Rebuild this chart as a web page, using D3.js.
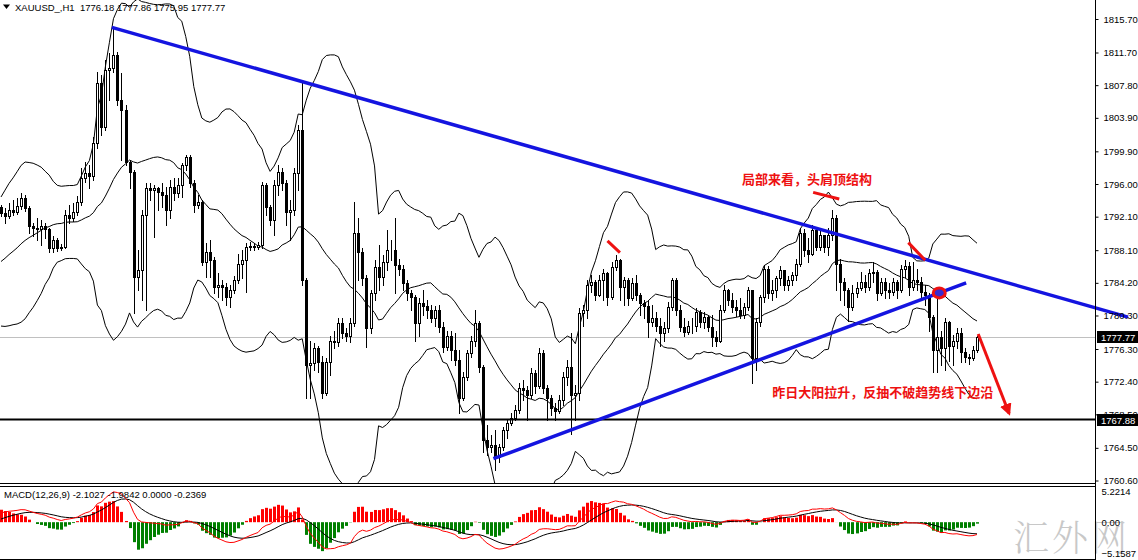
<!DOCTYPE html>
<html>
<head>
<meta charset="utf-8">
<script src="https://cdn.jsdelivr.net/npm/d3@7"></script>
<style>
  html, body { margin: 0; padding: 0; background: #fff; }
  svg { display: block; }
  text { font-family: "Liberation Sans", Arial, sans-serif; }
</style>
</head>
<body>
<svg id="chart" width="1138" height="560"></svg>
<script>
'use strict'

// closes before the first visible bar, only used to warm up the bands and MACD
const priorCloses = [
  1792.0, 1792.6, 1791.8, 1791.2, 1791.9, 1790.8, 1790.2, 1790.6, 1789.5, 1789.0,
  1789.6, 1788.4, 1787.9, 1788.3, 1787.2, 1786.8, 1787.4, 1786.2, 1785.6, 1786.0,
  1785.1, 1784.5, 1785.0, 1784.2, 1783.6, 1784.1, 1783.4, 1782.9, 1783.5, 1783.8,
  1784.5, 1784.0, 1784.8, 1785.2, 1784.6, 1785.0, 1784.4, 1785.1, 1784.8, 1785.0,
  1784.6, 1785.2, 1784.9, 1786.0, 1787.8, 1789.5, 1791.2, 1792.6, 1793.2
]

// XAUUSD H1 bars (open = previous close)
const closes = [
  1792.5, 1792.2, 1792.9, 1792.6, 1793.4, 1794.3, 1793.1, 1791.0, 1790.7, 1790.6,
  1791.0, 1790.6, 1788.3, 1789.3, 1788.3, 1788.5, 1792.3, 1791.9, 1792.6, 1793.8,
  1796.7, 1797.3, 1796.9, 1800.9, 1808.1, 1802.8, 1809.6, 1809.9, 1811.4, 1806.0,
  1804.8, 1798.6, 1797.4, 1784.9, 1785.7, 1792.3, 1795.5, 1795.3, 1795.5, 1795.0,
  1794.7, 1792.9, 1795.6, 1794.9, 1795.9, 1798.3, 1799.2, 1796.1, 1793.5, 1793.8,
  1786.7, 1787.9, 1786.9, 1783.7, 1784.0, 1783.7, 1782.5, 1783.3, 1784.5, 1786.5,
  1786.9, 1788.5, 1788.6, 1788.5, 1788.7, 1795.9, 1793.2, 1791.7, 1795.9, 1797.4,
  1796.1, 1792.6, 1792.9, 1797.3, 1802.4, 1784.5, 1774.4, 1774.6, 1776.4, 1774.7,
  1771.1, 1774.7, 1777.3, 1777.1, 1779.4, 1778.2, 1777.9, 1779.4, 1790.1, 1787.9,
  1784.8, 1778.8, 1783.0, 1786.1, 1784.9, 1786.7, 1788.1, 1788.1, 1786.3, 1785.9,
  1784.2, 1783.0, 1782.5, 1779.4, 1781.8, 1781.4, 1780.9, 1780.0, 1780.9, 1778.9,
  1776.5, 1777.9, 1776.2, 1775.0, 1770.5, 1772.9, 1775.8, 1777.3, 1779.4, 1774.1,
  1765.4, 1764.6, 1764.8, 1763.4, 1764.6, 1766.6, 1767.5, 1768.1, 1769.0, 1771.6,
  1771.4, 1770.8, 1773.4, 1771.9, 1775.8, 1771.7, 1770.5, 1769.3, 1768.9, 1770.2,
  1772.9, 1774.1, 1770.8, 1771.0, 1780.6, 1780.9, 1783.9, 1784.3, 1782.7, 1784.5,
  1785.4, 1782.5, 1786.1, 1786.9, 1783.7, 1784.5, 1782.4, 1784.2, 1782.7, 1781.8,
  1781.4, 1779.5, 1780.0, 1779.1, 1778.2, 1778.8, 1781.3, 1784.5, 1780.9, 1778.9,
  1778.3, 1779.1, 1779.0, 1780.7, 1779.5, 1780.1, 1778.9, 1777.7, 1777.3, 1780.9,
  1783.3, 1782.1, 1781.3, 1780.9, 1780.3, 1781.3, 1783.3, 1775.2, 1779.5, 1782.5,
  1785.9, 1783.0, 1783.3, 1784.8, 1785.7, 1783.9, 1784.5, 1785.1, 1786.5, 1790.1,
  1788.1, 1787.7, 1790.5, 1788.5, 1789.9, 1788.5, 1789.9, 1791.9, 1786.5, 1784.3,
  1783.3, 1781.3, 1783.0, 1783.6, 1784.3, 1783.7, 1785.4, 1785.5, 1783.0, 1784.3,
  1783.3, 1783.1, 1784.3, 1783.3, 1785.9, 1786.2, 1783.7, 1784.5, 1784.3, 1783.1,
  1782.7, 1780.1, 1776.2, 1777.7, 1776.4, 1779.5, 1776.7, 1777.3, 1778.2, 1775.9,
  1775.3, 1775.2, 1776.18, 1777.77
]

const highs = [
  1793.5, 1793.1, 1793.7, 1794.1, 1794.3, 1794.9, 1794.7, 1793.4, 1791.4, 1791.9,
  1791.7, 1791.3, 1790.8, 1789.8, 1789.5, 1788.8, 1792.9, 1793.5, 1793.7, 1794.6,
  1797.9, 1798.6, 1798.3, 1801.6, 1809.4, 1809.0, 1810.8, 1811.6, 1814.7, 1811.8,
  1809.2, 1805.4, 1798.9, 1797.7, 1788.1, 1792.9, 1796.1, 1796.1, 1795.9, 1795.6,
  1796.1, 1795.6, 1796.5, 1796.7, 1796.7, 1798.5, 1799.5, 1799.5, 1796.5, 1794.7,
  1794.1, 1788.9, 1789.3, 1787.3, 1785.4, 1784.5, 1784.2, 1783.9, 1785.0, 1787.7,
  1788.1, 1788.9, 1789.1, 1788.9, 1789.1, 1796.2, 1796.1, 1793.5, 1796.5, 1798.3,
  1797.9, 1796.5, 1794.1, 1797.9, 1803.0, 1808.4, 1784.8, 1777.3, 1777.0, 1776.7,
  1775.5, 1775.2, 1777.9, 1778.5, 1780.0, 1780.0, 1778.8, 1780.0, 1793.8, 1791.9,
  1788.3, 1785.1, 1783.3, 1786.9, 1788.7, 1787.5, 1790.5, 1789.3, 1791.9, 1787.1,
  1786.3, 1784.5, 1783.3, 1782.7, 1782.4, 1783.3, 1782.1, 1781.5, 1781.4, 1781.5,
  1779.5, 1778.5, 1778.5, 1778.2, 1776.2, 1773.5, 1776.2, 1777.8, 1780.9, 1779.7,
  1774.4, 1767.2, 1766.0, 1766.6, 1765.0, 1767.0, 1768.0, 1768.7, 1769.6, 1772.2,
  1772.6, 1771.9, 1774.0, 1773.8, 1776.4, 1776.2, 1772.0, 1770.8, 1769.8, 1770.8,
  1773.5, 1775.0, 1778.2, 1772.0, 1781.2, 1781.5, 1784.5, 1785.1, 1784.5, 1785.1,
  1785.9, 1785.5, 1786.7, 1787.5, 1787.1, 1784.9, 1784.8, 1784.8, 1785.1, 1783.0,
  1782.1, 1782.1, 1781.5, 1780.7, 1780.0, 1779.5, 1781.9, 1784.8, 1784.8, 1781.5,
  1780.0, 1779.7, 1780.0, 1781.2, 1780.9, 1780.7, 1780.3, 1780.3, 1778.5, 1781.5,
  1783.9, 1783.5, 1783.0, 1782.1, 1782.4, 1781.8, 1783.7, 1783.3, 1780.0, 1782.7,
  1786.3, 1786.2, 1784.5, 1785.0, 1786.2, 1785.7, 1785.0, 1785.5, 1787.1, 1790.7,
  1790.6, 1789.5, 1791.1, 1790.7, 1790.5, 1789.9, 1790.7, 1792.9, 1792.3, 1787.1,
  1784.8, 1783.6, 1783.9, 1784.3, 1785.5, 1785.1, 1785.9, 1786.7, 1785.7, 1784.8,
  1784.8, 1784.2, 1784.8, 1784.5, 1786.3, 1786.9, 1786.7, 1786.7, 1785.9, 1784.9,
  1783.9, 1783.0, 1780.3, 1783.0, 1778.5, 1780.0, 1779.7, 1778.0, 1778.8, 1778.8,
  1776.4, 1775.7, 1776.7, 1777.86
]

const lows = [
  1792.2, 1791.4, 1792.0, 1792.3, 1792.4, 1793.0, 1792.8, 1790.2, 1789.8, 1789.3,
  1788.7, 1789.5, 1787.9, 1787.9, 1788.0, 1788.1, 1788.3, 1791.3, 1791.6, 1792.3,
  1793.5, 1796.2, 1795.5, 1796.5, 1800.3, 1801.8, 1802.4, 1806.0, 1809.4, 1805.4,
  1798.9, 1798.3, 1795.5, 1780.6, 1783.3, 1782.1, 1780.9, 1794.1, 1789.7, 1792.9,
  1793.2, 1791.1, 1792.0, 1794.1, 1794.4, 1794.4, 1797.7, 1795.6, 1792.6, 1793.1,
  1786.3, 1784.9, 1784.9, 1783.0, 1782.5, 1782.1, 1781.5, 1781.3, 1783.0, 1784.2,
  1784.8, 1783.1, 1788.1, 1788.1, 1788.2, 1788.3, 1792.3, 1791.1, 1789.9, 1794.7,
  1795.3, 1791.1, 1789.3, 1792.3, 1795.3, 1783.9, 1770.5, 1770.4, 1773.8, 1773.5,
  1770.4, 1770.8, 1773.2, 1776.4, 1776.7, 1777.6, 1777.3, 1777.1, 1779.1, 1784.5,
  1783.9, 1776.5, 1778.2, 1782.1, 1783.3, 1783.9, 1785.7, 1786.9, 1783.0, 1785.1,
  1783.3, 1782.1, 1780.9, 1777.3, 1777.9, 1780.3, 1780.0, 1779.5, 1779.1, 1778.3,
  1775.9, 1776.2, 1775.0, 1774.4, 1768.6, 1770.2, 1772.6, 1775.3, 1776.7, 1773.5,
  1764.0, 1763.6, 1764.0, 1761.8, 1762.8, 1764.2, 1765.7, 1767.2, 1767.8, 1768.6,
  1770.2, 1767.8, 1770.4, 1771.0, 1771.6, 1771.1, 1767.8, 1768.4, 1767.8, 1768.6,
  1769.6, 1772.0, 1766.2, 1767.8, 1770.2, 1779.1, 1780.0, 1783.1, 1782.1, 1782.6,
  1782.1, 1781.5, 1782.3, 1785.7, 1782.1, 1781.5, 1781.5, 1782.1, 1782.1, 1780.3,
  1780.0, 1777.7, 1779.1, 1778.5, 1776.7, 1777.3, 1778.3, 1780.9, 1780.3, 1778.5,
  1777.9, 1778.1, 1778.2, 1778.5, 1778.9, 1778.8, 1778.5, 1776.7, 1776.7, 1777.1,
  1780.7, 1781.5, 1780.7, 1780.2, 1780.0, 1780.0, 1781.0, 1772.2, 1773.8, 1779.1,
  1781.9, 1782.4, 1782.1, 1782.5, 1783.9, 1783.3, 1783.3, 1784.0, 1784.5, 1786.2,
  1787.4, 1786.7, 1787.5, 1788.1, 1788.1, 1787.9, 1787.5, 1789.3, 1783.3, 1782.1,
  1781.5, 1779.7, 1780.9, 1782.5, 1783.3, 1783.1, 1783.3, 1784.3, 1782.1, 1782.7,
  1782.4, 1782.4, 1782.7, 1782.4, 1783.1, 1784.9, 1782.7, 1783.3, 1783.3, 1782.4,
  1781.5, 1778.5, 1773.5, 1773.5, 1774.4, 1773.8, 1774.9, 1774.4, 1776.4, 1774.7,
  1774.7, 1774.5, 1775.0, 1775.95
]

// right-hand price scale labels
const priceTicks = [1815.70, 1811.70, 1807.80, 1803.90, 1799.90, 1796.00, 1792.10, 1788.10,
  1784.20, 1780.30, 1776.30, 1772.40, 1768.50, 1764.50, 1760.60]
const macdTicks = [5.2214, 0, -5.1587]

const lastPrice = 1777.77
const levelPrice = 1767.88

// hand-drawn objects: bar index + price
const upperTrend = [{ i: 27.6, p: 1814.7 }, { i: 280.6, p: 1780.1 }]
const lowerTrend = [{ i: 122.6, p: 1763.2 }, { i: 240.3, p: 1784.2 }]
const redStrokes = [
  [{ i: 151.0, p: 1789.2 }, { i: 154.1, p: 1787.8 }],
  [{ i: 202.2, p: 1795.0 }, { i: 208.7, p: 1794.2 }],
  [{ i: 225.9, p: 1789.0 }, { i: 230.1, p: 1786.9 }]
]
const redArrow = [{ i: 243.3, p: 1778.1 }, { i: 251.0, p: 1768.6 }]
const touchPoint = { i: 233.6, p: 1783.0 }
const notes = [
  { text: '局部来看，头肩顶结构', i: 200.7, p: 1796.7, anchor: 'middle' },
  { text: '昨日大阳拉升，反抽不破趋势线下边沿', i: 192.0, p: 1771.2, anchor: 'start' }
]

const headerText = 'XAUUSD_,H1  1776.18 1777.86 1775.95 1777.77'
const macdText = 'MACD(12,26,9) -2.1027 -1.9842 0.0000 -0.2369'

const bandPeriod = 20
const bandDev = 2.5

const svg = d3.select('#chart')
const axisX = 1095
const mainBottom = 483
const macdTop = 486
const macdBottom = 559
const blue = '#1414e0'
const red = '#ee1111'

const x = d3.scaleLinear().domain([0, closes.length - 1]).range([1, 977])
const y = d3.scaleLinear().domain([1760.60, 1815.70]).range([480.5, 19])
const ym = d3.scaleLinear().domain([-5.1587, 5.2214]).range([553, 491])

const defs = svg.append('defs')
defs.append('clipPath').attr('id', 'clipMain')
  .append('rect').attr('x', 0).attr('y', 0).attr('width', axisX).attr('height', mainBottom)
defs.append('clipPath').attr('id', 'clipMacd')
  .append('rect').attr('x', 0).attr('y', macdTop + 1).attr('width', axisX).attr('height', macdBottom - macdTop - 1)
defs.append('marker').attr('id', 'arrow')
  .attr('viewBox', '0 0 10 10').attr('refX', 8).attr('refY', 5)
  .attr('markerWidth', 4).attr('markerHeight', 4).attr('orient', 'auto')
  .append('path').attr('d', 'M0,0L10,5L0,10Z').attr('fill', red)

// watermark sits under everything
svg.append('text').attr('x', 1013).attr('y', 551)
  .style('font-family', '"Noto Serif CJK SC", "Noto Sans CJK SC", serif').style('font-size', '36px').style('font-weight', 300)
  .attr('fill', '#c8c8c8').attr('letter-spacing', 3).text('汇外网')

// bars
const P = priorCloses.length
const candles = closes.map((c, i) => {
  const o = i === 0 ? priorCloses[P - 1] : closes[i - 1]
  return { i, o, c, h: Math.max(highs[i], o, c), l: Math.min(lows[i], o, c) }
})

// Bollinger bands
const all = priorCloses.concat(closes)
const bands = closes.map((c, i) => {
  const win = all.slice(i + P - bandPeriod + 1, i + P + 1)
  const m = d3.mean(win)
  const sd = Math.sqrt(d3.mean(win, v => (v - m) * (v - m)))
  return { i, mid: m, up: m + bandDev * sd, lo: m - bandDev * sd }
})

// MACD (12, 26, 9)
function ema (arr, n) {
  const k = 2 / (n + 1)
  let e = arr[0]
  return arr.map(v => (e = v * k + e * (1 - k)))
}
const e12 = ema(all, 12)
const e26 = ema(all, 26)
const difAll = all.map((v, j) => e12[j] - e26[j])
const deaAll = ema(difAll, 9)
const macd = closes.map((c, i) => {
  const dif = difAll[i + P]
  const dea = deaAll[i + P]
  return { i, dif, dea, hist: 2 * (dif - dea) }
})

// last price line
svg.append('line')
  .attr('x1', 0).attr('x2', axisX).attr('y1', Math.round(y(lastPrice)) + 0.5).attr('y2', Math.round(y(lastPrice)) + 0.5)
  .attr('stroke', '#c0c0c0')

const main = svg.append('g').attr('clip-path', 'url(#clipMain)')

const bandLine = key => d3.line().x(d => x(d.i)).y(d => y(d[key]))
;['up', 'mid', 'lo'].forEach(key => {
  main.append('path').datum(bands)
    .attr('d', bandLine(key))
    .attr('fill', 'none').attr('stroke', '#000').attr('stroke-width', 1)
})

main.selectAll('line.wick').data(candles).join('line')
  .attr('class', 'wick')
  .attr('x1', d => Math.round(x(d.i)) + 0.5).attr('x2', d => Math.round(x(d.i)) + 0.5)
  .attr('y1', d => Math.round(y(d.h))).attr('y2', d => Math.round(y(d.l)) + 1)
  .attr('stroke', '#000')

main.selectAll('rect.body').data(candles).join('rect')
  .attr('class', 'body')
  .attr('x', d => Math.round(x(d.i)) - 0.5)
  .attr('width', 2)
  .attr('y', d => Math.round(y(Math.max(d.o, d.c))) + 0.5)
  .attr('height', d => Math.round(y(Math.min(d.o, d.c))) - Math.round(y(Math.max(d.o, d.c))))
  .attr('fill', d => d.c >= d.o ? '#fff' : '#000')
  .attr('stroke', '#000')

// support level
svg.append('line')
  .attr('x1', 0).attr('x2', axisX).attr('y1', y(levelPrice)).attr('y2', y(levelPrice))
  .attr('stroke', '#000').attr('stroke-width', 2)

// trend lines
const tl = d3.line().x(d => x(d.i)).y(d => y(d.p))
;[upperTrend, lowerTrend].forEach(t => {
  svg.append('path').datum(t).attr('d', tl)
    .attr('stroke', blue).attr('stroke-width', 3.5).attr('fill', 'none')
})

redStrokes.forEach(s => {
  svg.append('path').datum(s).attr('d', tl)
    .attr('stroke', red).attr('stroke-width', 3).attr('fill', 'none')
})
svg.append('path').datum(redArrow).attr('d', tl)
  .attr('stroke', red).attr('stroke-width', 3).attr('fill', 'none')
  .attr('marker-end', 'url(#arrow)')

svg.append('ellipse')
  .attr('cx', x(touchPoint.i)).attr('cy', y(touchPoint.p))
  .attr('rx', 6).attr('ry', 5)
  .attr('fill', '#3a2ad0').attr('stroke', red).attr('stroke-width', 3)

svg.selectAll('text.note').data(notes).join('text')
  .attr('class', 'note')
  .attr('x', d => x(d.i)).attr('y', d => y(d.p))
  .attr('text-anchor', d => d.anchor)
  .attr('dominant-baseline', 'central')
  .style('font-family', '"Noto Sans CJK SC", sans-serif')
  .style('font-weight', 700)
  .style('font-size', '13px')
  .attr('fill', red)
  .text(d => d.text)

// MACD panel
const mg = svg.append('g').attr('clip-path', 'url(#clipMacd)')
mg.selectAll('rect.hist').data(macd).join('rect')
  .attr('class', 'hist')
  .attr('x', d => Math.round(x(d.i)) - 1)
  .attr('width', 3)
  .attr('y', d => Math.min(ym(d.hist), ym(0)))
  .attr('height', d => Math.abs(ym(d.hist) - ym(0)))
  .attr('fill', d => d.hist >= 0 ? '#ff0000' : '#008000')
mg.append('path').datum(macd)
  .attr('d', d3.line().x(d => x(d.i)).y(d => ym(d.dea)))
  .attr('fill', 'none').attr('stroke', '#000').attr('stroke-width', 1)
mg.append('path').datum(macd)
  .attr('d', d3.line().x(d => x(d.i)).y(d => ym(d.dif)))
  .attr('fill', 'none').attr('stroke', '#ff0000').attr('stroke-width', 1)

// frames
svg.append('line').attr('x1', axisX + 0.5).attr('x2', axisX + 0.5).attr('y1', 0).attr('y2', 560).attr('stroke', '#000')
svg.append('line').attr('x1', 0).attr('x2', axisX).attr('y1', mainBottom + 0.5).attr('y2', mainBottom + 0.5).attr('stroke', '#000')
svg.append('line').attr('x1', 0).attr('x2', axisX).attr('y1', macdTop + 0.5).attr('y2', macdTop + 0.5).attr('stroke', '#000')
svg.append('line').attr('x1', 0).attr('x2', axisX).attr('y1', macdBottom + 0.5).attr('y2', macdBottom + 0.5).attr('stroke', '#000')

// price axis
const axis = svg.append('g').attr('transform', `translate(${axisX + 0.5},0)`)
  .call(d3.axisRight(y).tickValues(priceTicks).tickSize(3).tickPadding(5).tickFormat(d3.format('.2f')))
axis.select('.domain').remove()
axis.selectAll('text').style('font-size', '9.5px').attr('fill', '#000')

const maxis = svg.append('g').attr('transform', `translate(${axisX + 0.5},0)`)
  .call(d3.axisRight(ym).tickValues(macdTicks).tickSize(0).tickPadding(6)
    .tickFormat(d => d === 0 ? '0.00' : d3.format('.4f')(d)))
maxis.select('.domain').remove()
maxis.selectAll('text').style('font-size', '9.5px').attr('fill', '#000')

// price tags
;[lastPrice, levelPrice].forEach(p => {
  const yy = Math.round(y(p))
  svg.append('rect').attr('x', axisX + 2).attr('y', yy - 6).attr('width', 1138 - axisX - 2).attr('height', 12).attr('fill', '#000')
  svg.append('text').attr('x', axisX + 6).attr('y', yy).attr('dominant-baseline', 'central')
    .style('font-size', '9.5px').attr('fill', '#fff').text(d3.format('.2f')(p))
})

// headers
svg.append('path').attr('d', 'M3,4.5L10,4.5L6.5,9Z').attr('fill', '#000')
svg.append('text').attr('x', 15).attr('y', 10.5).style('font-size', '9.5px').attr('fill', '#000')
  .attr('xml:space', 'preserve').text(headerText)
svg.append('text').attr('x', 4).attr('y', 498).style('font-size', '9.5px').attr('fill', '#000').text(macdText)
</script>
</body>
</html>
